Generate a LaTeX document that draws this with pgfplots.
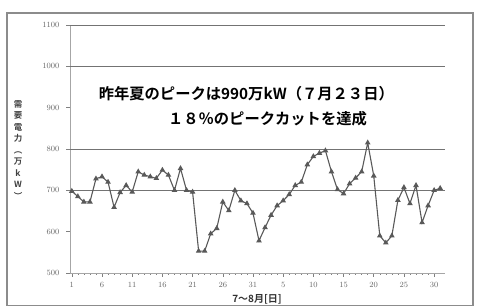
\documentclass[border=0pt]{standalone}
\usepackage{fontspec}
\usepackage{pgfplots}
\pgfplotsset{compat=1.18}
\usepackage{pgfplotstable}
\newfontfamily\jp{Noto Sans CJK JP}[BoldFont={Noto Sans CJK JP Bold}]

\pgfplotstableread{
d v
1 698
2 685
3 672
4 672
5 728
6 733
7 720
8 659
9 695
10 712
11 696
12 745
13 737
14 733
15 729
16 749
17 737
18 700
19 753
20 700
21 696
22 553
23 553
24 595
25 608
26 672
27 651
28 700
29 675
30 668
31 645
32 578
33 610
34 640
35 663
36 675
37 690
38 712
39 720
40 762
41 782
42 790
43 796
44 745
45 702
46 692
47 716
48 730
49 745
50 815
51 735
52 590
53 573
54 590
55 676
56 707
57 668
58 712
59 622
60 663
61 700
62 705
}\demand

\begin{document}
\begin{tikzpicture}
\draw[black!45, line width=1.2pt] (7pt,1.5pt) rectangle (473pt,294pt);
\begin{axis}[
  at={(70pt,34pt)}, anchor=south west,
  scale only axis, width=375pt, height=248pt,
  xmin=0.7, xmax=62.8, ymin=500, ymax=1100,
  axis x line=bottom, axis y line=left,
  axis line style={-, draw=black!35, line width=0.9pt},
  ytick={500,600,...,1100},
  yticklabel style={/pgf/number format/1000 sep={}, xshift=-3pt},
  xtick={1,6,...,61},
  xticklabels={1,6,11,16,21,26,31,5,10,15,20,25,30},
  minor x tick num=4,
  tick style={black!50, line width=0.5pt},
  major tick length=4pt, minor tick length=2pt,
  tick align=outside,
  ticklabel style={font=\footnotesize, text=black!60},
  xticklabel style={yshift=-2pt},
]
\draw[black!55, line width=0.6pt] (axis cs:0.7,700) -- (axis cs:62.8,700);
\draw[black!55, line width=0.6pt] (axis cs:0.7,800) -- (axis cs:62.8,800);
\draw[black!55, line width=0.6pt] (axis cs:0.7,1000) -- (axis cs:62.8,1000);
\draw[black!55, line width=0.6pt] (axis cs:0.7,1100) -- (axis cs:62.8,1100);
\addplot[color=black!65, line width=1.1pt, mark=triangle*, mark size=2.2pt,
  mark options={fill=black!65, draw=black!65}] table[x=d, y=v] {\demand};
\node[font=\jp\bfseries\fontsize{15.3}{18}\selectfont] at (axis cs:29.9,935) {昨年夏のピークは990万kW（７月２３日）};
\node[font=\jp\bfseries\fontsize{15.3}{18}\selectfont] at (axis cs:33.4,874) {１８％のピークカットを達成};
\end{axis}
\node[font=\jp\bfseries\fontsize{10}{10}\selectfont, text=black!80] at (257pt,8pt) {7～8月[日]};
\node[font=\jp\bfseries\fontsize{8.5}{11.5}\selectfont, text=black!75, align=center] at (18pt,157pt) {需\\要\\電\\力\\︵\\万\\k\\W\\︶};
\pgfresetboundingbox
\useasboundingbox (0,0) rectangle (477pt,307pt);
\end{tikzpicture}
\end{document}
